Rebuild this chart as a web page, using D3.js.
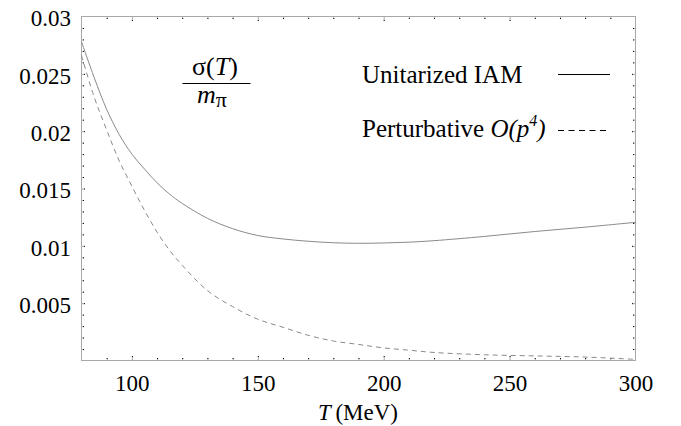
<!DOCTYPE html>
<html>
<head>
<meta charset="utf-8">
<script src="https://cdn.jsdelivr.net/npm/d3@7"></script>
<style>
  body { margin: 0; background: #fff; }
  svg { display: block; font-family: "Liberation Serif", "Times New Roman", serif; }
</style>
</head>
<body>
<svg id="chart" width="681" height="426"></svg>
<script>
  // temperatures (MeV) the curves were read at
  var temps = [80, 85, 90, 95, 100, 105, 110, 115, 120, 130, 140, 150, 160, 170,
    180, 190, 200, 210, 220, 240, 260, 280, 300];
  // sigma(T)/m_pi, unitarized IAM
  var iamValues = [0.0278, 0.0247, 0.0219, 0.0197, 0.0180, 0.0167, 0.0155, 0.0145,
    0.0137, 0.0124, 0.0115, 0.0109, 0.0106, 0.01040, 0.01027, 0.01022, 0.01025,
    0.01032, 0.01045, 0.01082, 0.01125, 0.01163, 0.01205];
  // sigma(T)/m_pi, perturbative O(p^4)
  var pertValues = [0.0266, 0.0230, 0.0201, 0.0174, 0.0152, 0.0131, 0.0112, 0.0096,
    0.0083, 0.0061, 0.0047, 0.0036, 0.0029, 0.0022, 0.0017, 0.0014, 0.0011,
    0.0009, 0.0007, 0.0005, 0.0004, 0.0003, 0.0001];

  var xMajor = [100, 150, 200, 250, 300];
  var xLabels = ['100', '150', '200', '250', '300'];
  var yMajor = [0.005, 0.01, 0.015, 0.02, 0.025, 0.03];
  var yLabels = ['0.005', '0.01', '0.015', '0.02', '0.025', '0.03'];
  var legendLabels = ['Unitarized IAM', 'Perturbative '];

  var svg = d3.select('#chart'),
      plotLeft = 81.5, plotRight = 635.5, plotTop = 16.5, plotBottom = 360.5,
      frameColor = '#a8a8a8',
      curveColor = '#8a8a8a';

  var x = d3.scaleLinear().domain([80, 300]).range([plotLeft, plotRight]);
  var y = d3.scaleLinear().domain([0, 0.03]).range([plotBottom, plotTop]);

  var xMinor = d3.range(90, 300, 10).filter(function (d) { return d % 50 !== 0; });
  var yMinor = d3.range(1, 30).filter(function (d) { return d % 5 !== 0; })
    .map(function (d) { return d / 1000; });

  // one side of inward ticks: gray stem with a black tip
  function side(axis, translate, values, size, labels, pad) {
    var g = svg.append('g')
      .attr('transform', translate)
      .call(axis.tickValues(values).tickSize(-size).tickSizeOuter(0).tickPadding(pad)
        .tickFormat(labels ? function (d, i) { return labels[i]; } : ''));
    g.select('.domain').remove();
    g.selectAll('.tick line').attr('stroke', frameColor);
    if (size > 0) {
      g.selectAll('.tick').append('rect')
        .attr('width', 1).attr('height', 1)
        .attr('fill', '#000')
        .attr('x', function () {
          var l = d3.select(this.parentNode).select('line');
          return (+l.attr('x2') || 0) - 0.5;
        })
        .attr('y', function () {
          var l = d3.select(this.parentNode).select('line');
          return (+l.attr('y2') || 0) - 0.5;
        });
    }
    g.selectAll('.tick text')
      .attr('fill', '#000')
      .style('font-size', '23px')
      .style('font-family', '"Liberation Serif", "Times New Roman", serif');
    return g;
  }

  // bottom & left carry labels
  side(d3.axisBottom(x), 'translate(0,' + plotBottom + ')', xMajor.slice(0, 4), 4, xLabels.slice(0, 4), 14);
  side(d3.axisBottom(x), 'translate(0,' + plotBottom + ')', xMajor.slice(4), 0, xLabels.slice(4), 14);
  side(d3.axisBottom(x), 'translate(0,' + plotBottom + ')', xMinor, 2, null, 0);
  side(d3.axisTop(x), 'translate(0,' + plotTop + ')', xMajor.slice(0, 4), 4, null, 0);
  side(d3.axisTop(x), 'translate(0,' + plotTop + ')', xMinor, 2, null, 0);

  var yl = side(d3.axisLeft(y), 'translate(' + plotLeft + ',0)', yMajor.slice(0, 5), 3, yLabels.slice(0, 5), 10.5);
  yl.selectAll('.tick text').attr('dy', '0.4em');
  var yTop = side(d3.axisLeft(y), 'translate(' + plotLeft + ',0)', yMajor.slice(5), 0, yLabels.slice(5), 10.5);
  yTop.selectAll('.tick text').attr('dy', '0.4em');
  side(d3.axisLeft(y), 'translate(' + plotLeft + ',0)', yMinor, 2, null, 0);
  side(d3.axisRight(y), 'translate(' + plotRight + ',0)', yMajor.slice(0, 5), 3, null, 0);
  side(d3.axisRight(y), 'translate(' + plotRight + ',0)', yMinor, 2, null, 0);

  // frame
  svg.append('rect')
    .attr('x', plotLeft).attr('y', plotTop)
    .attr('width', plotRight - plotLeft).attr('height', plotBottom - plotTop)
    .attr('fill', 'none')
    .attr('stroke', frameColor)
    .attr('stroke-width', 1);

  var line = d3.line()
    .x(function (d, i) { return x(temps[i]); })
    .y(function (d) { return y(d); })
    .curve(d3.curveCatmullRom.alpha(0.5));

  svg.append('path')
    .datum(iamValues)
    .attr('d', line)
    .attr('fill', 'none')
    .attr('stroke', curveColor)
    .attr('stroke-width', 1);

  svg.append('path')
    .datum(pertValues)
    .attr('d', line)
    .attr('fill', 'none')
    .attr('stroke', curveColor)
    .attr('stroke-width', 1)
    .attr('stroke-dasharray', '5,4');

  // x axis title
  svg.append('text')
    .attr('x', 318).attr('y', 420)
    .style('font-size', '23px').style('font-style', 'italic')
    .text('T');
  svg.append('text')
    .attr('x', 398).attr('y', 420)
    .attr('text-anchor', 'end')
    .style('font-size', '23px')
    .text('(MeV)');

  // sigma(T)/m_pi label
  var frac = svg.append('g').style('font-size', '26px');
  var num = frac.append('text')
    .attr('x', 215).attr('y', 75)
    .attr('text-anchor', 'middle');
  num.append('tspan').text('σ(');
  num.append('tspan').style('font-style', 'italic').text('T');
  num.append('tspan').text(')');
  frac.append('line')
    .attr('x1', 182.5).attr('x2', 250.5)
    .attr('y1', 83.5).attr('y2', 83.5)
    .attr('stroke', '#000').attr('stroke-width', 1);
  var den = frac.append('text')
    .attr('x', 197).attr('y', 103);
  den.append('tspan').style('font-style', 'italic').text('m');
  den.append('tspan').attr('dy', 4).style('font-size', '22px').text('π');

  // legend
  var leg = svg.append('g').style('font-size', '25px');
  leg.append('text').attr('x', 362).attr('y', 83).text(legendLabels[0]);
  var t2 = leg.append('text').attr('x', 362).attr('y', 137);
  t2.append('tspan').text(legendLabels[1]);
  t2.append('tspan').style('font-style', 'italic').text('O(p');
  t2.append('tspan').style('font-style', 'italic').style('font-size', '16px')
    .attr('dy', -11).text('4');
  t2.append('tspan').style('font-style', 'italic').attr('dy', 11).text(')');

  leg.append('line')
    .attr('x1', 558).attr('x2', 610).attr('y1', 74.5).attr('y2', 74.5)
    .attr('stroke', '#000').attr('stroke-width', 1);
  leg.append('line')
    .attr('x1', 558).attr('x2', 610).attr('y1', 130.5).attr('y2', 130.5)
    .attr('stroke', '#000').attr('stroke-width', 1)
    .attr('stroke-dasharray', '6,4.5');
</script>
</body>
</html>
